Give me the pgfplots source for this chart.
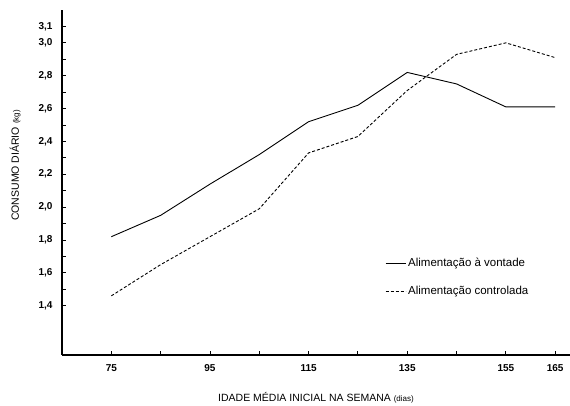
\documentclass[border=0pt]{standalone}
\usepackage{pgfplots}
\pgfplotsset{compat=1.18}
\usepackage{fontspec}
\setmainfont{Liberation Sans}
\begin{document}
\begin{tikzpicture}[x=1pt,y=1pt]
\useasboundingbox (-62,-51) rectangle (508,355);
\begin{axis}[
  scale only axis,
  width=508pt, height=345pt,
  at={(0,0)}, anchor=south west,
  xmin=65, xmax=168, ymin=1.1, ymax=3.2,
  axis x line=bottom, axis y line=left,
  axis line style={-, line width=1.2pt},
  tick align=inside,
  major tick length=4pt,
  tick style={line width=0.9pt, black},
  xtick={75,85,...,165},
  xticklabels={75,,95,,115,,135,,155,165},
  ytick={1.4,1.5,...,3.1},
  yticklabels={{1,4},,{1,6},,{1,8},,{2,0},,{2,2},,{2,4},,{2,6},,{2,8},,{3,0},{3,1}},
  ticklabel style={font=\bfseries\fontsize{10}{11}\selectfont},
  xticklabel style={yshift=-6pt},
  yticklabel style={xshift=-6pt},
  xlabel={IDADE MÉDIA INICIAL NA SEMANA {\fontsize{8}{8}\selectfont(dias)}},
  ylabel={CONSUMO DIÁRIO {\fontsize{8}{8}\selectfont(kg)}},
  label style={font=\fontsize{10.5}{11}\selectfont},
  xlabel style={at={(0.5,0)}, anchor=north, yshift=-34pt},
  ylabel style={at={(0,0.555)}, anchor=south, xshift=-2pt, yshift=38pt},
  legend style={draw=none, fill=none, at={(0.63,0.293)}, anchor=north west,
    font=\fontsize{11.5}{12}\selectfont, row sep=14pt},
  legend cell align=left,
  legend image code/.code={\draw[#1] (0pt,0pt) -- (20pt,0pt);},
]
\addplot[black, line width=0.9pt] coordinates {
  (75,1.82) (85,1.95) (95,2.14) (105,2.32) (115,2.52)
  (125,2.62) (135,2.82) (145,2.75) (155,2.61) (165,2.61)};
\addlegendentry{Alimentação à vontade}
\addplot[black, line width=0.9pt, dash pattern=on 3pt off 2pt] coordinates {
  (75,1.46) (85,1.65) (95,1.82) (105,1.99) (115,2.33)
  (125,2.43) (135,2.71) (145,2.93) (155,3.00) (165,2.91)};
\addlegendentry{Alimentação controlada}
\end{axis}
\end{tikzpicture}
\end{document}
